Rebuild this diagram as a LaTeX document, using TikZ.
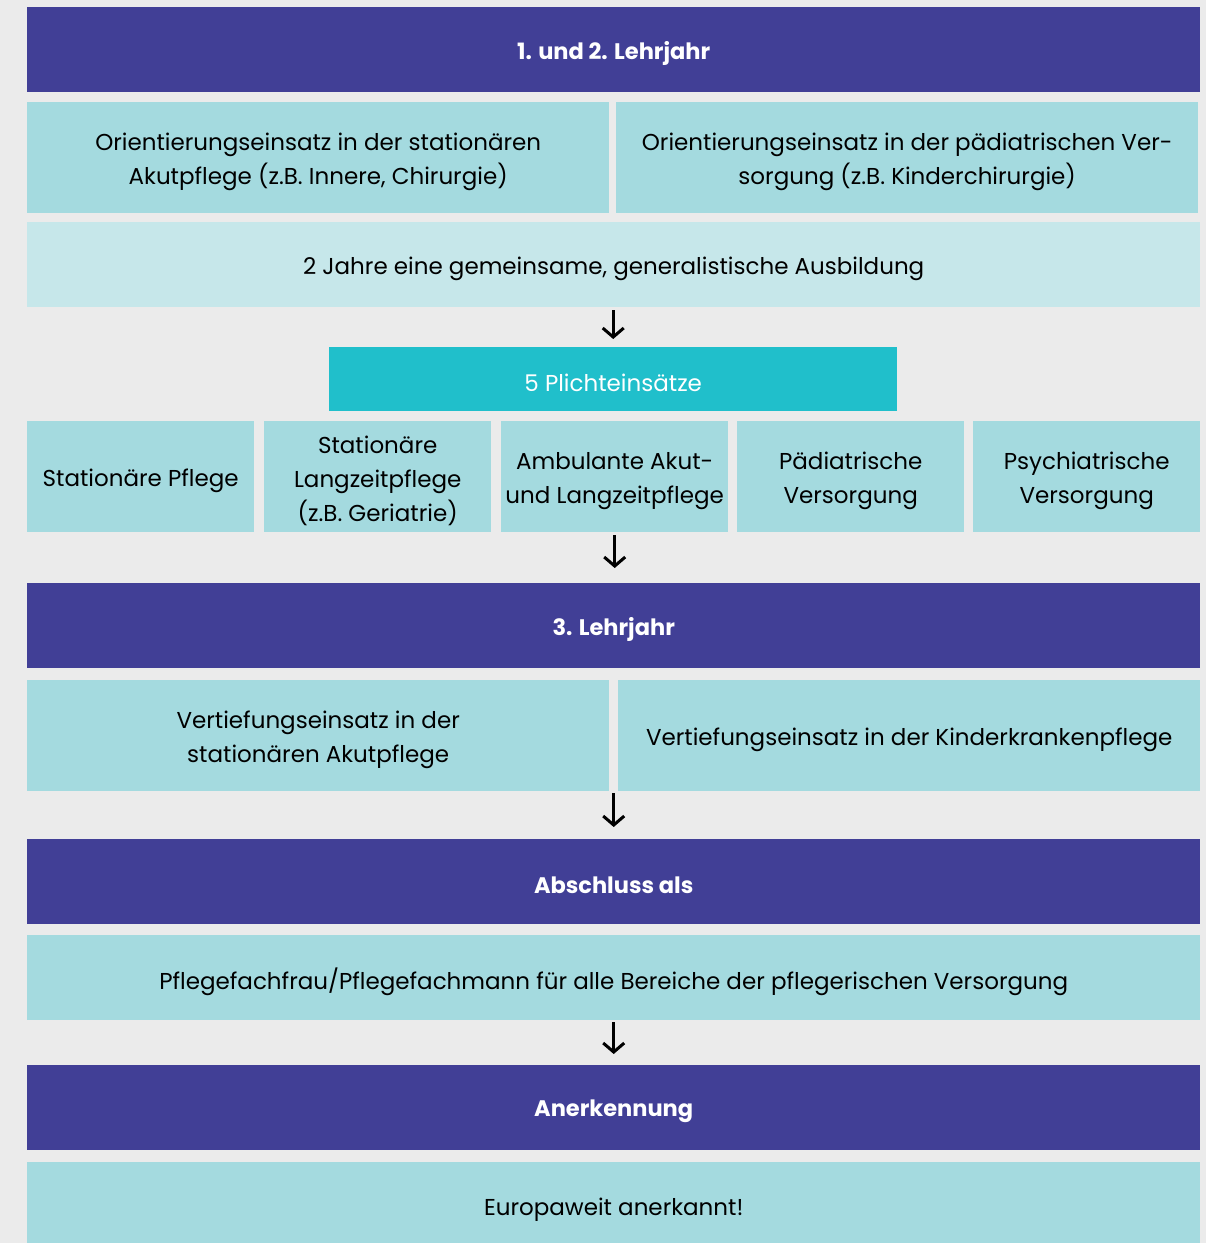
\documentclass[tikz,border=0pt]{standalone}
\usepackage{fontspec}
\setmainfont{Poppins}
\usetikzlibrary{arrows.meta,calc}
\definecolor{bgc}{HTML}{EBEBEB}
\definecolor{purp}{HTML}{413F96}
\definecolor{teal1}{HTML}{A4DADF}
\definecolor{teal2}{HTML}{C6E7EA}
\definecolor{teal3}{HTML}{20BFCB}
\tikzset{
  txt/.style={inner sep=0pt,align=center,text=black,yshift=-4pt,
    font=\fontsize{23}{34}\selectfont},
  htxt/.style={txt,text=white,font=\fontsize{22.5}{30}\selectfont\bfseries},
  t/.style={label={[txt]center:{#1}}},
  ht/.style={label={[htxt]center:{#1}}},
  wt/.style={label={[txt,text=white]center:{#1}}},
  box/.style={anchor=north west,inner sep=0pt},
  head/.style={box,fill=purp,minimum width=1173pt,minimum height=85pt},
  half/.style={box,fill=teal1,minimum width=582pt,minimum height=111pt},
  five/.style={box,fill=teal1,minimum width=227pt,minimum height=111pt},
  full/.style={box,fill=teal1,minimum width=1173pt,minimum height=85pt},
  flow/.style={-{Straight Barb[length=9pt,width=21pt,line width=3pt]},line width=3pt,black}
}
\begin{document}
\begin{tikzpicture}[x=1pt,y=-1pt]
\fill[bgc] (0,0) rectangle (1206,1243);
\useasboundingbox (0,0) rectangle (1206,1243);
\node[head,ht={1. und 2. Lehrjahr}] (h1) at (27,7) {};
\node[half,t={Orientierungseinsatz in der stationären\\Akutpflege (z.B. Innere, Chirurgie)}] (o1) at (27,102) {};
\node[half,t={Orientierungseinsatz in der pädiatrischen Ver-\\sorgung (z.B. Kinderchirurgie)}] (o2) at (616,102) {};
\node[full,fill=teal2,t={2 Jahre eine gemeinsame, generalistische Ausbildung}] (g) at (27,222) {};
\node[box,fill=teal3,minimum width=568pt,minimum height=64pt,wt={5 Plichteinsätze}] (p) at (329,347) {};
\node[five,t={Stationäre Pflege}] (f1) at (27,421) {};
\node[five,t={Stationäre\\Langzeitpflege\\(z.B. Geriatrie)}] (f2) at (264,421) {};
\node[five,t={Ambulante Akut-\\und Langzeitpflege}] (f3) at (501,421) {};
\node[five,t={Pädiatrische\\Versorgung}] (f4) at (737,421) {};
\node[five,t={Psychiatrische\\Versorgung}] (f5) at (973,421) {};
\node[head,ht={3. Lehrjahr}] (h3) at (27,583) {};
\node[half,t={Vertiefungseinsatz in der\\stationären Akutpflege}] (v1) at (27,680) {};
\node[half,t={Vertiefungseinsatz in der Kinderkrankenpflege}] (v2) at (618,680) {};
\node[head,ht={Abschluss als}] (ab) at (27,839) {};
\node[full,t={Pflegefachfrau/Pflegefachmann für alle Bereiche der pflegerischen Versorgung}] (pf) at (27,935) {};
\node[head,ht={Anerkennung}] (an) at (27,1065) {};
\node[full,minimum height=90pt,label={[txt,yshift=1pt]center:{Europaweit anerkannt!}}] (eu) at (27,1162) {};
\coordinate (gap) at ($(v1.south east)!0.5!(v2.south west)$);
\draw[flow,shorten <=3pt,shorten >=8pt] (g.south -| p.north) -- (p.north);
\draw[flow,shorten <=3pt,shorten >=15pt] (f3.south) -- (f3.south |- h3.north);
\draw[flow,shorten <=2pt,shorten >=12pt] (gap) -- (gap |- ab.north);
\draw[flow,shorten <=2pt,shorten >=11pt] (pf.south -| gap) -- (gap |- an.north);
\end{tikzpicture}
\end{document}
